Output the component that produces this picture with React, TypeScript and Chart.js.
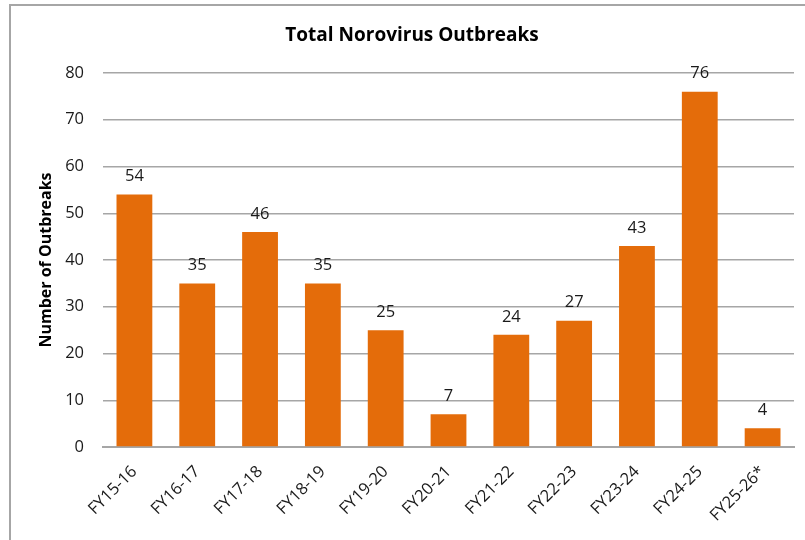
import React, { useEffect, useRef } from "react";
import { Chart, registerables } from "chart.js";

Chart.register(...registerables);

const categories = ["FY15-16", "FY16-17", "FY17-18", "FY18-19", "FY19-20", "FY20-21", "FY21-22", "FY22-23", "FY23-24", "FY24-25", "FY25-26*"];
const outbreaks = [54, 35, 46, 35, 25, 7, 24, 27, 43, 76, 4];
const yTicks = [0, 10, 20, 30, 40, 50, 60, 70, 80];

const FONT = "'Open Sans', 'Noto Sans', sans-serif";

export default function App() {
  const ref = useRef<HTMLCanvasElement | null>(null);
  useEffect(() => {
    const canvas = ref.current;
    if (!canvas) return;
    const framePlugin = {
      id: "frame",
      beforeDraw(chart: any) {
        const ctx = chart.ctx;
        ctx.save();
        ctx.fillStyle = "#ffffff";
        ctx.fillRect(0, 0, chart.width, chart.height);
        ctx.strokeStyle = "#a6a6a6";
        ctx.lineWidth = 2;
        ctx.strokeRect(10, 5, 1000, 1000);
        ctx.restore();
      },
      afterDraw(chart: any) {
        const ctx = chart.ctx;
        ctx.save();
        ctx.fillStyle = "#000000";
        ctx.font = `bold 19px ${FONT}`;
        ctx.textAlign = "center";
        ctx.textBaseline = "middle";
        ctx.fillText("Total Norovirus Outbreaks", 412, 36);
        ctx.font = `16.5px ${FONT}`;
        ctx.fillStyle = "#1a1a1a";
        const meta = chart.getDatasetMeta(0);
        meta.data.forEach((bar: any, i: number) => {
          ctx.fillText(String(outbreaks[i]), bar.x, bar.y - 18);
        });
        ctx.restore();
      },
    };
    const chart = new Chart(canvas, {
      type: "bar",
      data: {
        labels: categories,
        datasets: [
          {
            data: outbreaks,
            backgroundColor: "#E46C0A",
            borderWidth: 0,
            barPercentage: 0.57,
            categoryPercentage: 1,
          },
        ],
      },
      options: {
        animation: false,
        responsive: false,
        devicePixelRatio: 1,
        layout: { padding: { top: 73, right: 11, bottom: 0, left: 0 } },
        plugins: {
          legend: { display: false },
          tooltip: { enabled: false },
          title: { display: false },
        },
        scales: {
          x: {
            grid: { display: false, drawTicks: false },
            border: { color: "#a6a6a6", width: 2 },
            ticks: {
              color: "#1a1a1a",
              font: { family: FONT, size: 16.5 },
              maxRotation: 45,
              minRotation: 45,
              padding: 15,
            },
            afterFit(scale: any) {
              scale.height = 93;
            },
          },
          y: {
            min: 0,
            max: 80,
            afterBuildTicks(scale: any) {
              scale.ticks = yTicks.map((v) => ({ value: v }));
            },
            grid: { color: "#a6a6a6", lineWidth: 1.5, drawTicks: false },
            border: { display: false },
            ticks: {
              color: "#1a1a1a",
              font: { family: FONT, size: 16.5 },
              padding: 19,
            },
            title: {
              display: true,
              text: "Number of Outbreaks",
              color: "#000000",
              font: { family: FONT, size: 16, weight: "bold" },
              padding: { top: 37, bottom: 0 },
            },
            afterFit(scale: any) {
              scale.width = 103;
            },
          },
        },
      },
      plugins: [framePlugin],
    } as any);
    return () => chart.destroy();
  }, []);
  return (
    <div style={{ position: "fixed", left: 0, top: 0, width: 805, height: 540, background: "#fff" }}>
      <canvas ref={ref} width={805} height={540} style={{ width: 805, height: 540, display: "block" }} />
    </div>
  );
}
